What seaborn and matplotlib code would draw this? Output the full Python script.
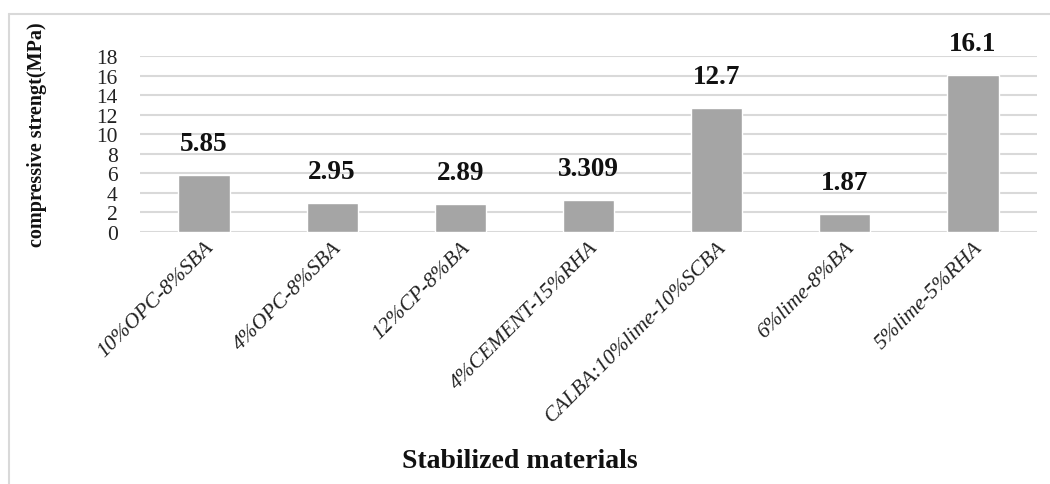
import numpy as np
import pandas as pd
import seaborn as sns
import matplotlib.pyplot as plt
from matplotlib.lines import Line2D

# data
materials = ["10%OPC-8%SBA", "4%OPC-8%SBA", "12%CP-8%BA", "4%CEMENT-15%RHA",
             "CALBA:10%lime-10%SCBA", "6%lime-8%BA", "5%lime-5%RHA"]
strength = [5.85, 2.95, 2.89, 3.309, 12.7, 1.87, 16.1]
value_labels = ["5.85", "2.95", "2.89", "3.309", "12.7", "1.87", "16.1"]
y_ticks = [0, 2, 4, 6, 8, 10, 12, 14, 16, 18]

df = pd.DataFrame({"material": materials, "strength": strength})

sns.set_theme(style="white")
plt.rcParams["font.family"] = ["Liberation Serif", "DejaVu Serif"]

fig = plt.figure(figsize=(10.5, 4.85), dpi=100)
ax = fig.add_axes([0.1333, 0.5196, 0.8543, 0.3629])

sns.barplot(data=df, x="material", y="strength", color="#A5A5A5",
            saturation=1, width=0.4, ax=ax, zorder=3)

ax.set_ylim(0, 18)
ax.set_yticks(y_ticks)
ax.set_xlim(-0.5, len(materials) - 0.5)
ax.yaxis.grid(True, color="#D9D9D9", linewidth=1.5, zorder=0)
ax.xaxis.grid(False)
for s in ax.spines.values():
    s.set_visible(False)

ax.tick_params(axis="y", length=0, pad=16, labelsize=15.5, labelcolor="#222222")
ax.tick_params(axis="x", length=0, pad=4, labelsize=15.5, labelcolor="#222222")
plt.setp(ax.get_xticklabels(), rotation=45, ha="right", rotation_mode="anchor",
         style="italic")

# value labels above bars
for i, (v, lab) in enumerate(zip(strength, value_labels)):
    ax.annotate(lab, (i, v), xytext=(0, 13.5), textcoords="offset points",
                ha="center", va="bottom", fontsize=19.5, fontweight="bold",
                color="#111111", annotation_clip=False)

ax.set_xlabel("")
ax.set_ylabel("compressive strengt(MPa)", fontsize=14.5, fontweight="bold",
              color="#111111")
ax.yaxis.set_label_coords(-0.104, 0.557)

fig.text(0.495, 1 - 462 / 485, "Stabilized materials", ha="center", va="center",
         fontsize=20, fontweight="bold", color="#111111")

# light frame around the chart area (cropped at right/bottom)
fig.add_artist(Line2D([9 / 1050, 1], [1 - 15 / 485, 1 - 15 / 485],
                      color="#D9D9D9", linewidth=1.5, transform=fig.transFigure))
fig.add_artist(Line2D([9 / 1050, 9 / 1050], [0, 1 - 15 / 485],
                      color="#D9D9D9", linewidth=1.5, transform=fig.transFigure))

fig.savefig("out.png", dpi=100)
plt.close(fig)
